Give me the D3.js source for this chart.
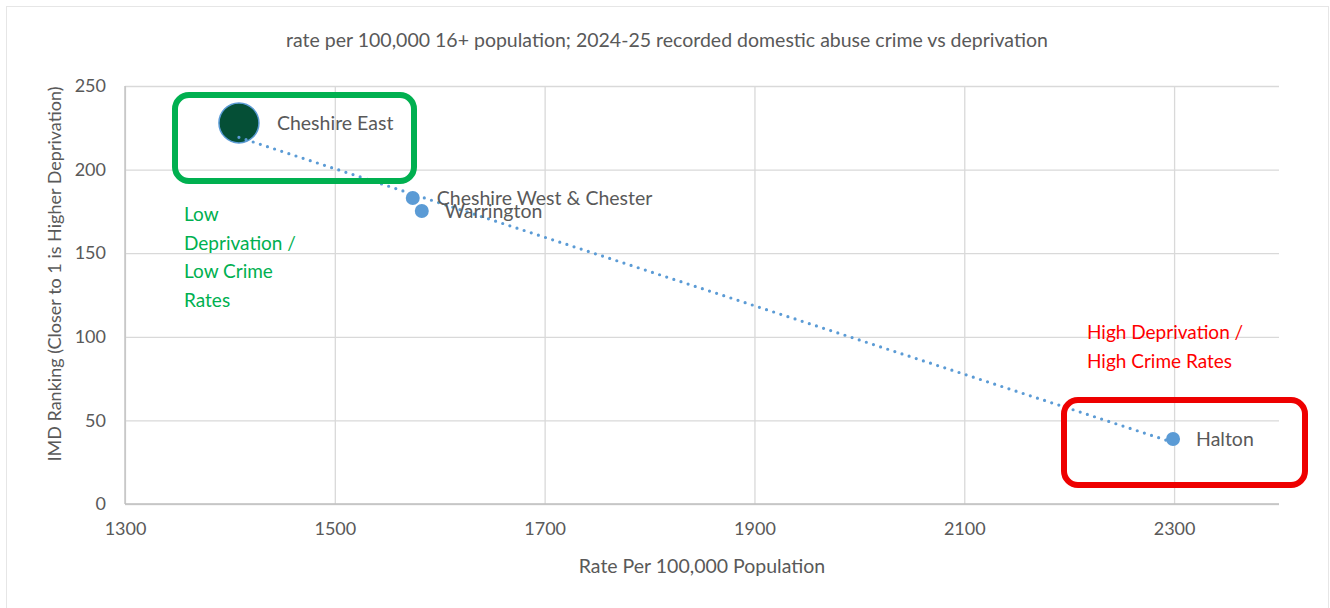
<!DOCTYPE html>
<html>
<head>
<meta charset="utf-8">
<script src="https://cdn.jsdelivr.net/npm/d3@7"></script>
<style>
  html, body { margin: 0; padding: 0; background: #fff; }
  svg { display: block; font-family: Lato, "Open Sans", sans-serif; }
</style>
</head>
<body>
<svg id="chart" width="1330" height="608"></svg>
<script>
// Local authority areas: recorded domestic abuse rate vs IMD ranking
const areas = ["Cheshire East", "Cheshire West & Chester", "Warrington", "Halton"];
const ratePer100k = [1408.6, 1574.3, 1582.9, 2299];
const imdRanking = [227.9, 183, 175.2, 38.9];
const bubbleSize = ["large", "small", "small", "small"];

const xTicks = [1300, 1500, 1700, 1900, 2100, 2300];
const yTicks = [0, 50, 100, 150, 200, 250];

const title = "rate per 100,000 16+ population; 2024-25 recorded domestic abuse crime vs deprivation";
const xTitle = "Rate Per 100,000 Population";
const yTitle = "IMD Ranking (Closer to 1 is Higher Deprivation)";
const lowNote = ["Low", "Deprivation /", "Low Crime", "Rates"];
const highNote = ["High Deprivation /", "High Crime Rates"];

const svg = d3.select("#chart");
const W = 1330, H = 608;
const plot = { left: 125, right: 1279, top: 86, bottom: 504 };
const fsTick = 18, fsText = 19.5, fsNote = 19;

const x = d3.scaleLinear().domain([1300, 2400]).range([plot.left, plot.right]);
const y = d3.scaleLinear().domain([0, 250]).range([plot.bottom, plot.top]);

const textGrey = "#595959";
const gridGrey = "#d9d9d9";
const blue = "#5b9bd5";

// chart frame
svg.append("rect")
  .attr("x", 6.5).attr("y", 6.5).attr("width", W - 8).attr("height", H)
  .attr("fill", "#fff").attr("stroke", "#e6e6e6").attr("stroke-width", 1);

// title
svg.append("text")
  .attr("x", 667).attr("y", 47)
  .attr("text-anchor", "middle")
  .attr("font-size", fsText).attr("fill", textGrey)
  .text(title);

// horizontal gridlines
svg.append("g")
  .attr("transform", `translate(${plot.left},0)`)
  .call(d3.axisLeft(y).tickValues(yTicks).tickSize(-(plot.right - plot.left)).tickFormat(""))
  .call(g => g.select(".domain").remove())
  .call(g => g.selectAll("line").attr("stroke", gridGrey).attr("stroke-width", 1.3));

// vertical gridlines
svg.append("g")
  .attr("transform", `translate(0,${plot.bottom})`)
  .call(d3.axisBottom(x).tickValues(xTicks).tickSize(-(plot.bottom - plot.top)).tickFormat(""))
  .call(g => g.select(".domain").remove())
  .call(g => g.selectAll("line").attr("stroke", gridGrey).attr("stroke-width", 1.3));

// axis lines
svg.append("line")
  .attr("x1", plot.left).attr("x2", plot.left).attr("y1", plot.top).attr("y2", plot.bottom)
  .attr("stroke", "#bfbfbf").attr("stroke-width", 1.3);
svg.append("line")
  .attr("x1", plot.left).attr("x2", plot.right).attr("y1", plot.bottom).attr("y2", plot.bottom)
  .attr("stroke", "#bfbfbf").attr("stroke-width", 1.3);

// tick labels
svg.append("g")
  .attr("transform", `translate(${plot.left},0)`)
  .call(d3.axisLeft(y).tickValues(yTicks).tickSize(0).tickPadding(19).tickFormat(d3.format("d")))
  .call(g => g.select(".domain").remove())
  .call(g => g.selectAll("text").attr("font-size", fsTick).attr("fill", textGrey)
    .attr("font-family", "Lato, sans-serif"));

svg.append("g")
  .attr("transform", `translate(0,${plot.bottom})`)
  .call(d3.axisBottom(x).tickValues(xTicks).tickSize(0).tickPadding(18).tickFormat(d3.format("d")))
  .call(g => g.select(".domain").remove())
  .call(g => g.selectAll("text").attr("font-size", fsTick).attr("fill", textGrey)
    .attr("font-family", "Lato, sans-serif"));

// axis titles
svg.append("text")
  .attr("x", 702).attr("y", 573)
  .attr("text-anchor", "middle")
  .attr("font-size", fsText).attr("fill", textGrey)
  .text(xTitle);

svg.append("text")
  .attr("transform", `translate(61,274) rotate(-90)`)
  .attr("text-anchor", "middle")
  .attr("font-size", fsTick).attr("fill", textGrey)
  .text(yTitle);

const pts = areas.map((a, i) => ({ name: a, x: ratePer100k[i], y: imdRanking[i], size: bubbleSize[i] }));

// points
svg.append("g").selectAll("circle")
  .data(pts)
  .join("circle")
  .attr("cx", d => x(d.x)).attr("cy", d => y(d.y))
  .attr("r", d => d.size === "large" ? 20 : 7)
  .attr("fill", d => d.size === "large" ? "#054f36" : blue)
  .attr("stroke", d => d.size === "large" ? blue : "none")
  .attr("stroke-width", 1.5);

// linear trendline (least squares over the plotted areas), drawn over the markers
const mx = d3.mean(pts, d => d.x), my = d3.mean(pts, d => d.y);
const slope = d3.sum(pts, d => (d.x - mx) * (d.y - my)) / d3.sum(pts, d => (d.x - mx) ** 2);
const fit = v => my + slope * (v - mx);
const [xMin, xMax] = d3.extent(ratePer100k);

svg.append("line")
  .attr("x1", x(xMin)).attr("y1", y(fit(xMin)))
  .attr("x2", x(xMax)).attr("y2", y(fit(xMax)))
  .attr("stroke", blue).attr("stroke-width", 3.2)
  .attr("stroke-linecap", "round").attr("stroke-dasharray", "0 7.5");

// point labels
const labelOffset = { "Cheshire East": [38, 7], "Cheshire West & Chester": [24, 7], "Warrington": [23, 7], "Halton": [23, 7] };
svg.append("g").selectAll("text")
  .data(pts)
  .join("text")
  .attr("x", d => x(d.x) + labelOffset[d.name][0])
  .attr("y", d => y(d.y) + labelOffset[d.name][1])
  .attr("font-size", fsText).attr("fill", textGrey)
  .text(d => d.name);

// highlight boxes
svg.append("rect")
  .attr("x", 175).attr("y", 95).attr("width", 239).attr("height", 86)
  .attr("rx", 14).attr("ry", 14)
  .attr("fill", "none").attr("stroke", "#00b050").attr("stroke-width", 6);

svg.append("rect")
  .attr("x", 1064).attr("y", 400).attr("width", 241).attr("height", 85)
  .attr("rx", 14).attr("ry", 14)
  .attr("fill", "none").attr("stroke", "#ee0000").attr("stroke-width", 6);

// annotations
svg.append("g").selectAll("text")
  .data(lowNote)
  .join("text")
  .attr("x", 184).attr("y", (d, i) => 221 + i * 28.7)
  .attr("font-size", fsNote).attr("fill", "#00b050")
  .text(d => d);

svg.append("g").selectAll("text")
  .data(highNote)
  .join("text")
  .attr("x", 1087).attr("y", (d, i) => 339 + i * 29)
  .attr("font-size", fsNote).attr("fill", "#ff0000")
  .text(d => d);
</script>
</body>
</html>
